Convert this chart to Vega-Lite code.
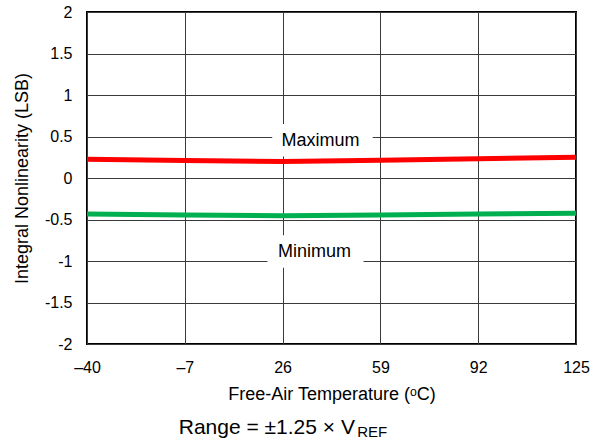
{
  "$schema": "https://vega.github.io/schema/vega-lite/v6.json",
  "autosize": "none",
  "width": 489,
  "height": 332,
  "padding": {"left": 87, "top": 12, "right": 24, "bottom": 99},
  "background": "white",
  "config": {
    "font": "Liberation Sans",
    "view": {"stroke": "black", "strokeWidth": 2},
    "axis": {
      "labelFont": "Liberation Sans",
      "titleFont": "Liberation Sans",
      "labelColor": "black",
      "titleColor": "black",
      "titleFontWeight": "normal",
      "labelFlush": false,
      "domain": false,
      "ticks": false,
      "grid": true,
      "gridColor": "#3a3a3a",
      "gridWidth": 1,
      "gridOpacity": 1
    }
  },
  "datasets": {
    "inl": [
      {"temp": -40, "value": 0.225, "series": "Maximum"},
      {"temp": -7, "value": 0.21, "series": "Maximum"},
      {"temp": 26, "value": 0.2, "series": "Maximum"},
      {"temp": 59, "value": 0.215, "series": "Maximum"},
      {"temp": 92, "value": 0.232, "series": "Maximum"},
      {"temp": 125, "value": 0.25, "series": "Maximum"},
      {"temp": -40, "value": -0.434, "series": "Minimum"},
      {"temp": -7, "value": -0.445, "series": "Minimum"},
      {"temp": 26, "value": -0.454, "series": "Minimum"},
      {"temp": 59, "value": -0.445, "series": "Minimum"},
      {"temp": 92, "value": -0.435, "series": "Minimum"},
      {"temp": 125, "value": -0.425, "series": "Minimum"}
    ],
    "labels": [
      {"x": 38.8, "y": 0.45, "x1": 22.5, "x2": 56.4, "y1": 0.65, "y2": 0.26, "text": "Maximum"},
      {"x": 36.8, "y": -0.89, "x1": 20.9, "x2": 53.3, "y1": -0.69, "y2": -1.08, "text": "Minimum"}
    ],
    "range": [
      {"x": 50.4, "y": -3.08, "text": "Range = ±1.25 × V"}
    ],
    "sub": [
      {"x": 51.2, "y": -3.125, "text": "REF"}
    ]
  },
  "layer": [
    {
      "data": {"name": "inl"},
      "mark": {"type": "line", "strokeWidth": 5, "clip": true},
      "encoding": {
        "x": {
          "field": "temp",
          "type": "quantitative",
          "scale": {"domain": [-40, 125], "nice": false, "zero": false},
          "axis": {
            "values": [-40, -7, 26, 59, 92, 125],
            "labelExpr": "replace(toString(datum.value), '-', '–')",
            "labelFontSize": 16,
            "labelPadding": 15,
            "title": "Free-Air Temperature (ᵒC)",
            "titleFontSize": 18,
            "titlePadding": 10
          }
        },
        "y": {
          "field": "value",
          "type": "quantitative",
          "scale": {"domain": [-2, 2], "nice": false},
          "axis": {
            "values": [-2, -1.5, -1, -0.5, 0, 0.5, 1, 1.5, 2],
            "labelExpr": "toString(datum.value)",
            "labelFontSize": 16,
            "labelPadding": 15,
            "title": "Integral Nonlinearity (LSB)",
            "titleFontSize": 18,
            "titlePadding": 13
          }
        },
        "color": {
          "field": "series",
          "type": "nominal",
          "scale": {"domain": ["Maximum", "Minimum"], "range": ["#ff0000", "#00b050"]},
          "legend": null
        }
      }
    },
    {
      "data": {"name": "labels"},
      "mark": {"type": "rect", "color": "white"},
      "encoding": {
        "x": {"field": "x1", "type": "quantitative"},
        "x2": {"field": "x2"},
        "y": {"field": "y1", "type": "quantitative"},
        "y2": {"field": "y2"}
      }
    },
    {
      "data": {"name": "labels"},
      "mark": {"type": "text", "fontSize": 18, "color": "black", "baseline": "middle"},
      "encoding": {
        "x": {"field": "x", "type": "quantitative"},
        "y": {"field": "y", "type": "quantitative"},
        "text": {"field": "text"}
      }
    },
    {
      "data": {"name": "range"},
      "mark": {"type": "text", "color": "black", "fontSize": 21, "align": "right", "baseline": "alphabetic", "clip": false},
      "encoding": {
        "x": {"field": "x", "type": "quantitative"},
        "y": {"field": "y", "type": "quantitative"},
        "text": {"field": "text"}
      }
    },
    {
      "data": {"name": "sub"},
      "mark": {"type": "text", "color": "black", "fontSize": 15, "align": "left", "baseline": "alphabetic", "clip": false},
      "encoding": {
        "x": {"field": "x", "type": "quantitative"},
        "y": {"field": "y", "type": "quantitative"},
        "text": {"field": "text"}
      }
    }
  ]
}
